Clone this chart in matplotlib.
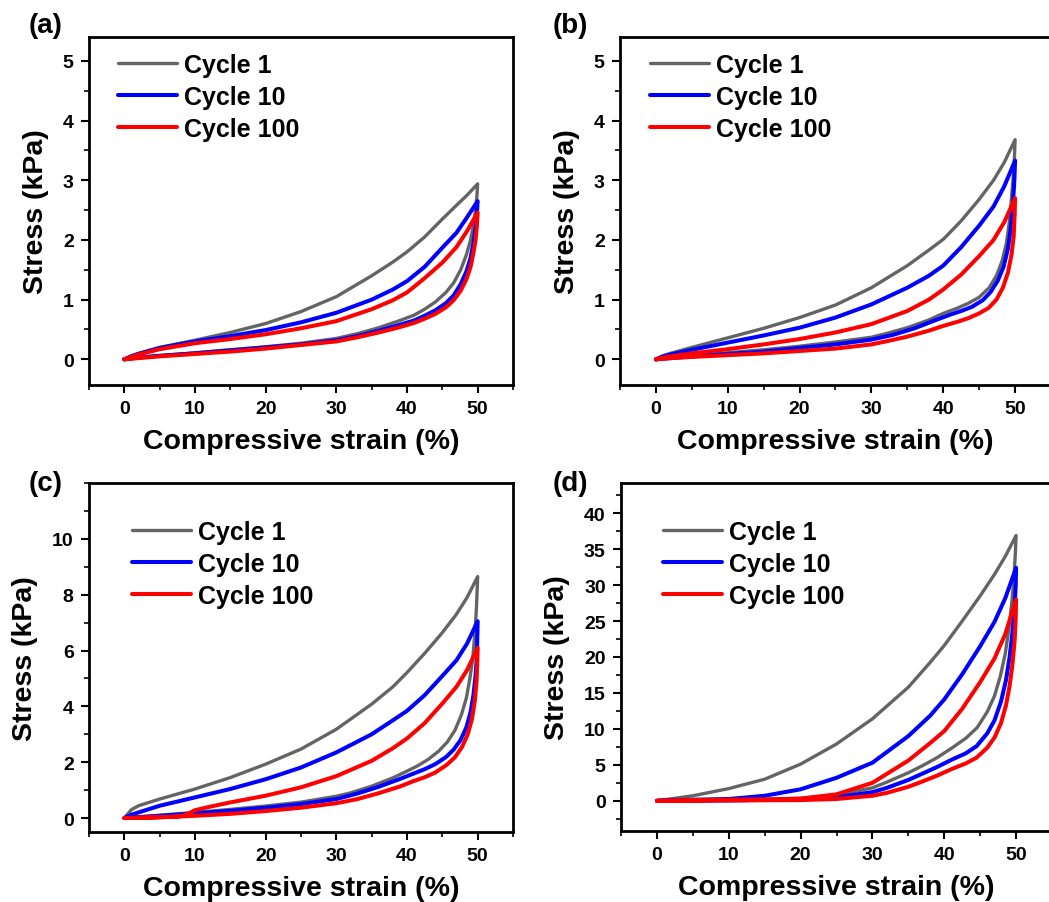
import matplotlib
matplotlib.use("Agg")
import matplotlib.pyplot as plt
from matplotlib.ticker import MultipleLocator, FixedLocator

plt.rcParams['font.family'] = ['Liberation Sans', 'DejaVu Sans']
plt.rcParams['font.weight'] = 'bold'

cycle_labels = ["Cycle 1", "Cycle 10", "Cycle 100"]
cycle_colors = ["#646464", "#0000ff", "#ff0000"]
panel_letters = ["(a)", "(b)", "(c)", "(d)"]
x_label = "Compressive strain (%)"
y_label = "Stress (kPa)"

# common loading strain grid (%)
load_x = [0, 1, 2, 5, 10, 15, 20, 25, 30, 35, 38, 40, 42.5, 45, 47, 48.5, 50]

# ---- panel (a) ----
a_c1_load_y = [0, 0.06, 0.1, 0.2, 0.32, 0.45, 0.6, 0.8, 1.05, 1.4, 1.63, 1.8, 2.05, 2.35, 2.58, 2.75, 2.94]
a_c1_unload_x = [49.9, 49.7, 49.4, 49.0, 48.4, 47.6, 46.6, 45.5, 44, 42.5, 41, 39, 36, 33, 30, 25, 20, 15, 10, 5, 2, 0]
a_c1_unload_y = [2.75, 2.5, 2.25, 2.0, 1.75, 1.5, 1.28, 1.12, 0.96, 0.84, 0.74, 0.65, 0.53, 0.43, 0.35, 0.27, 0.21, 0.16, 0.11, 0.06, 0.03, 0]
a_c10_load_y = [0, 0.05, 0.09, 0.19, 0.3, 0.39, 0.49, 0.62, 0.78, 1.0, 1.17, 1.31, 1.55, 1.87, 2.12, 2.38, 2.65]
a_c10_unload_x = [49.9, 49.7, 49.4, 49.0, 48.4, 47.6, 46.6, 45.5, 44, 42.5, 41, 39, 36, 33, 30, 25, 20, 15, 10, 5, 2, 0]
a_c10_unload_y = [2.45, 2.2, 1.95, 1.7, 1.47, 1.26, 1.07, 0.94, 0.82, 0.73, 0.65, 0.58, 0.48, 0.39, 0.32, 0.25, 0.2, 0.15, 0.1, 0.06, 0.03, 0]
a_c100_load_y = [0, 0.04, 0.08, 0.17, 0.27, 0.34, 0.42, 0.52, 0.64, 0.84, 0.99, 1.12, 1.36, 1.62, 1.88, 2.15, 2.46]
a_c100_unload_x = [49.9, 49.7, 49.4, 49.0, 48.4, 47.6, 46.6, 45.5, 44, 42.5, 41, 39, 36, 33, 30, 25, 20, 15, 10, 5, 2, 0]
a_c100_unload_y = [2.25, 2.0, 1.78, 1.55, 1.34, 1.15, 0.99, 0.87, 0.76, 0.68, 0.61, 0.54, 0.45, 0.37, 0.3, 0.24, 0.18, 0.13, 0.09, 0.05, 0.02, 0]

# ---- panel (b) ----
b_c1_load_y = [0, 0.06, 0.1, 0.2, 0.36, 0.52, 0.70, 0.91, 1.2, 1.57, 1.83, 2.01, 2.32, 2.68, 3.0, 3.3, 3.68]
b_c1_unload_x = [49.9, 49.7, 49.5, 49.2, 48.8, 48.2, 47.4, 46.4, 45, 43.5, 42, 40, 38, 35, 32, 30, 25, 20, 15, 10, 5, 2, 0]
b_c1_unload_y = [3.35, 3.0, 2.7, 2.3, 1.95, 1.65, 1.4, 1.2, 1.04, 0.94, 0.86, 0.77, 0.66, 0.53, 0.43, 0.37, 0.29, 0.22, 0.16, 0.11, 0.06, 0.03, 0]
b_c10_load_y = [0, 0.05, 0.08, 0.16, 0.28, 0.4, 0.53, 0.7, 0.92, 1.2, 1.4, 1.57, 1.88, 2.24, 2.56, 2.9, 3.33]
b_c10_unload_x = [49.9, 49.7, 49.4, 49.0, 48.4, 47.6, 46.6, 45.5, 44, 42.5, 41, 39, 36, 33, 30, 25, 20, 15, 10, 5, 2, 0]
b_c10_unload_y = [3.0, 2.6, 2.2, 1.85, 1.55, 1.32, 1.13, 0.99, 0.88, 0.81, 0.75, 0.66, 0.52, 0.41, 0.33, 0.25, 0.19, 0.13, 0.09, 0.05, 0.02, 0]
b_c100_load_y = [0, 0.03, 0.05, 0.1, 0.17, 0.25, 0.34, 0.45, 0.59, 0.81, 1.0, 1.17, 1.42, 1.73, 2.0, 2.3, 2.7]
b_c100_unload_x = [49.95, 49.8, 49.5, 49.0, 48.3, 47.4, 46.3, 45, 43.5, 42, 40, 38, 35, 32, 30, 25, 20, 15, 10, 5, 2, 0]
b_c100_unload_y = [2.45, 2.05, 1.75, 1.45, 1.2, 1.0, 0.86, 0.77, 0.69, 0.63, 0.56, 0.48, 0.38, 0.3, 0.25, 0.18, 0.14, 0.1, 0.07, 0.04, 0.02, 0]

# ---- panel (c) ----
c_c1_load_y = [0, 0.3, 0.44, 0.68, 1.04, 1.45, 1.93, 2.47, 3.18, 4.08, 4.7, 5.21, 5.9, 6.64, 7.3, 7.9, 8.65]
c_c1_unload_x = [49.9, 49.8, 49.6, 49.3, 48.9, 48.4, 47.7, 46.8, 45.7, 44.5, 43, 41.5, 40, 38, 35, 32, 30, 25, 20, 15, 10, 5, 2, 0]
c_c1_unload_y = [8.0, 7.4, 6.6, 5.7, 5.0, 4.3, 3.7, 3.15, 2.72, 2.4, 2.1, 1.87, 1.68, 1.44, 1.14, 0.9, 0.78, 0.57, 0.43, 0.31, 0.2, 0.1, 0.04, 0]
c_c10_load_y = [0, 0.12, 0.2, 0.44, 0.74, 1.04, 1.39, 1.81, 2.35, 3.0, 3.5, 3.84, 4.4, 5.09, 5.65, 6.25, 7.05]
c_c10_unload_x = [49.95, 49.9, 49.7, 49.4, 49.0, 48.4, 47.6, 46.6, 45.5, 44, 42.5, 41, 39, 36, 33, 30, 25, 20, 15, 10, 5, 2, 0]
c_c10_unload_y = [6.5, 5.8, 5.1, 4.4, 3.8, 3.25, 2.8, 2.45, 2.18, 1.93, 1.75, 1.6, 1.4, 1.12, 0.88, 0.68, 0.5, 0.37, 0.26, 0.17, 0.08, 0.03, 0]
c_c100_load_x = [0, 4, 7, 8, 9, 10, 12, 15, 20, 25, 30, 35, 38, 40, 42.5, 45, 47, 48.5, 50]
c_c100_load_y = [0, 0.02, 0.04, 0.07, 0.15, 0.28, 0.4, 0.56, 0.8, 1.1, 1.5, 2.05, 2.5, 2.85, 3.4, 4.1, 4.7, 5.3, 6.1]
c_c100_unload_x = [49.95, 49.85, 49.6, 49.2, 48.6, 47.8, 46.8, 45.6, 44, 42.5, 41, 39, 36, 33, 30, 25, 20, 15, 10, 5, 2, 0]
c_c100_unload_y = [5.6, 4.9, 4.2, 3.55, 3.0, 2.55, 2.18, 1.9, 1.63, 1.46, 1.33, 1.13, 0.89, 0.68, 0.53, 0.37, 0.25, 0.15, 0.08, 0.03, 0.01, 0]

# ---- panel (d) ----
d_load_x = [0, 5, 10, 15, 20, 25, 30, 35, 38, 40, 42.5, 45, 47, 48.5, 50]
d_c1_load_y = [0, 0.7, 1.7, 3.0, 5.1, 7.9, 11.4, 15.8, 19.2, 21.6, 25, 28.5, 31.5, 34, 36.9]
d_c1_unload_x = [49.9, 49.7, 49.4, 49.0, 48.5, 47.8, 47, 46, 44.6, 43, 41, 39, 37, 35, 32, 30, 25, 20, 15, 10, 0]
d_c1_unload_y = [34.5, 31, 27.5, 24, 20.5, 17.3, 14.6, 12.4, 10.2, 8.7, 7.3, 6.0, 4.9, 3.9, 2.6, 1.8, 0.8, 0.35, 0.15, 0.08, 0]
d_c10_load_y = [0, 0.15, 0.25, 0.7, 1.6, 3.2, 5.3, 9.0, 11.8, 14.1, 17.6, 21.5, 24.9, 28.2, 32.4]
d_c10_unload_x = [49.95, 49.8, 49.5, 49.1, 48.6, 47.9, 47, 46, 44.5, 43, 41, 39, 37, 35, 32, 30, 25, 20, 10, 0]
d_c10_unload_y = [30, 27, 23.5, 20, 16.8, 13.8, 11.2, 9.4, 7.6, 6.6, 5.7, 4.7, 3.8, 2.9, 1.8, 1.2, 0.5, 0.2, 0.05, 0]
d_c100_load_y = [0, 0.05, 0.15, 0.2, 0.3, 0.9, 2.5, 5.6, 8.0, 9.7, 12.8, 16.5, 19.8, 23.2, 28]
d_c100_unload_x = [49.95, 49.8, 49.5, 49.1, 48.6, 47.9, 47, 46, 44.5, 43, 41, 39, 37, 35, 32, 30, 25, 20, 0]
d_c100_unload_y = [25.5, 22.3, 19, 16, 13.3, 10.8, 8.8, 7.4, 6.0, 5.2, 4.4, 3.5, 2.7, 1.95, 1.1, 0.7, 0.25, 0.1, 0]

panels = [
    [(load_x, a_c1_load_y, a_c1_unload_x, a_c1_unload_y),
     (load_x, a_c10_load_y, a_c10_unload_x, a_c10_unload_y),
     (load_x, a_c100_load_y, a_c100_unload_x, a_c100_unload_y)],
    [(load_x, b_c1_load_y, b_c1_unload_x, b_c1_unload_y),
     (load_x, b_c10_load_y, b_c10_unload_x, b_c10_unload_y),
     (load_x, b_c100_load_y, b_c100_unload_x, b_c100_unload_y)],
    [(load_x, c_c1_load_y, c_c1_unload_x, c_c1_unload_y),
     (load_x, c_c10_load_y, c_c10_unload_x, c_c10_unload_y),
     (c_c100_load_x, c_c100_load_y, c_c100_unload_x, c_c100_unload_y)],
    [(d_load_x, d_c1_load_y, d_c1_unload_x, d_c1_unload_y),
     (d_load_x, d_c10_load_y, d_c10_unload_x, d_c10_unload_y),
     (d_load_x, d_c100_load_y, d_c100_unload_x, d_c100_unload_y)],
]

y_major_ticks = [[0, 1, 2, 3, 4, 5], [0, 1, 2, 3, 4, 5], [0, 2, 4, 6, 8, 10],
                 [0, 5, 10, 15, 20, 25, 30, 35, 40]]
x_major_ticks = [0, 10, 20, 30, 40, 50]

W, H = 1049, 903
fig = plt.figure(figsize=(W / 100, H / 100), dpi=100)

# axes boxes in pixels: left, top, right, bottom
boxes = [(89, 38, 513, 386), (620, 38, 1051, 386), (89, 484, 513, 833), (621, 484, 1052, 832)]
ylims = [(-0.43, 5.4), (-0.43, 5.4), (-0.5, 12), (-4.2, 44.2)]
ymin = [0.5, 0.5, 1, 2.5]
legend_anchor = [(0.068, 0.955), (0.07, 0.955), (0.101, 0.895), (0.097, 0.894)]
letter_pos = [(29, 33), (553, 33), (29, 491), (553, 491)]

for i, (l, t, r, b) in enumerate(boxes):
    ax = fig.add_axes([l / W, 1 - b / H, (r - l) / W, (b - t) / H])
    for j, (lx, ly, ux, uy) in enumerate(panels[i]):
        lw = 2.4 if j == 0 else 2.9
        ax.plot(list(lx) + list(ux), list(ly) + list(uy), color=cycle_colors[j], lw=lw,
                label=cycle_labels[j], solid_joinstyle='round', solid_capstyle='round')
    ax.set_xlim(-5, 55)
    ax.set_ylim(*ylims[i])
    ax.xaxis.set_major_locator(FixedLocator(x_major_ticks))
    ax.xaxis.set_minor_locator(MultipleLocator(5))
    ax.yaxis.set_major_locator(FixedLocator(y_major_ticks[i]))
    ax.yaxis.set_minor_locator(MultipleLocator(ymin[i]))
    ax.tick_params(which='major', direction='out', length=6, width=1.5, labelsize=14, pad=5,
                   top=False, right=False)
    ax.tick_params(which='minor', direction='out', length=3.5, width=1.2, top=False, right=False)
    for lab in ax.get_xticklabels() + ax.get_yticklabels():
        lab.set_fontweight('bold')
    for sp in ax.spines.values():
        sp.set_linewidth(2.0)
    ax.set_xlabel(x_label, fontsize=20.5, fontweight='bold', labelpad=8)
    ax.set_ylabel(y_label, fontsize=20.5, fontweight='bold', labelpad=10)
    leg = ax.legend(loc='upper left', bbox_to_anchor=legend_anchor[i], frameon=False,
                    fontsize=18, handlelength=2.35, handletextpad=0.3, labelspacing=0.32,
                    borderpad=0, borderaxespad=0)
    for txt in leg.get_texts():
        txt.set_fontweight('bold')
    fig.text(letter_pos[i][0] / W, 1 - letter_pos[i][1] / H, panel_letters[i],
             fontsize=20, fontweight='bold', ha='left', va='baseline')

fig.savefig("out.png", dpi=100)
